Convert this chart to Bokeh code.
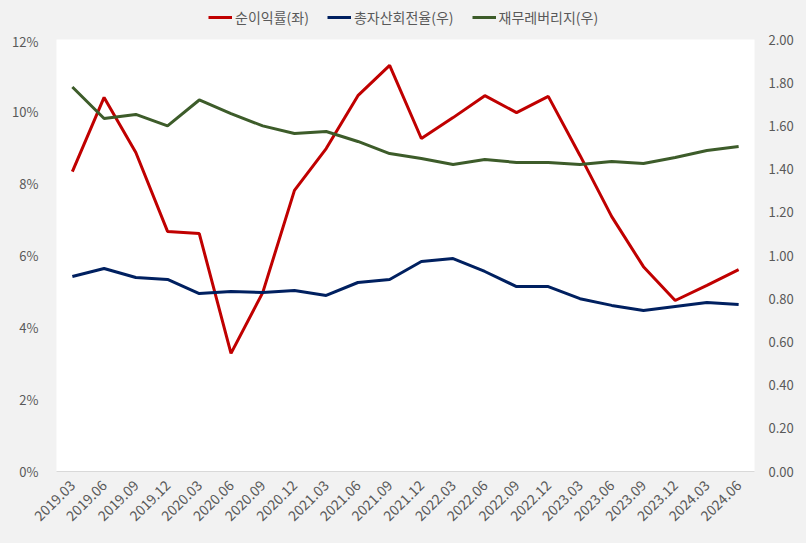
import math
from bokeh.plotting import figure
from bokeh.layouts import column
from bokeh.models import (Range1d, LinearAxis, FixedTicker, CustomJSTickFormatter,
                          NumeralTickFormatter, Legend, LegendItem)
from bokeh.embed import file_html
from bokeh.resources import INLINE

quarters = ["2019.03", "2019.06", "2019.09", "2019.12", "2020.03", "2020.06", "2020.09",
            "2020.12", "2021.03", "2021.06", "2021.09", "2021.12", "2022.03", "2022.06",
            "2022.09", "2022.12", "2023.03", "2023.06", "2023.09", "2023.12", "2024.03",
            "2024.06"]
net_margin = [8.33, 10.39, 8.86, 6.67, 6.61, 3.28, 4.97, 7.81, 8.97, 10.44, 11.28, 9.25,
              9.83, 10.44, 9.97, 10.42, 8.78, 7.08, 5.69, 4.75, 5.17, 5.61]
asset_turnover = [0.903, 0.940, 0.898, 0.889, 0.824, 0.833, 0.829, 0.838, 0.815, 0.875,
                  0.889, 0.972, 0.986, 0.926, 0.856, 0.856, 0.800, 0.769, 0.745, 0.764,
                  0.782, 0.773]
leverage = [1.780, 1.634, 1.653, 1.600, 1.720, 1.657, 1.600, 1.565, 1.574, 1.528, 1.472,
            1.449, 1.421, 1.444, 1.431, 1.431, 1.421, 1.435, 1.426, 1.454, 1.486, 1.505]
names = ["순이익률(좌)", "총자산회전율(우)", "재무레버리지(우)"]
colors = ["#C00000", "#002060", "#3D5C2A"]

BG = "#F2F2F2"
FONT = "Noto Sans CJK KR"
LABEL_COLOR = "#595959"

# ---- main chart ----
p = figure(width=806, height=512, x_range=quarters, y_range=Range1d(0, 12),
           output_backend="svg", toolbar_location=None,
           min_border_left=56, min_border_right=52, min_border_top=8, min_border_bottom=72)
p.background_fill_color = "white"
p.border_fill_color = BG
p.outline_line_color = None
p.xgrid.grid_line_color = None
p.ygrid.grid_line_color = None
p.extra_y_ranges = {"right": Range1d(0, 2)}

p.line(quarters, net_margin, line_color=colors[0], line_width=3)
p.line(quarters, asset_turnover, line_color=colors[1], line_width=3, y_range_name="right")
p.line(quarters, leverage, line_color=colors[2], line_width=3, y_range_name="right")

ya = p.yaxis[0]
ya.ticker = FixedTicker(ticks=[0, 2, 4, 6, 8, 10, 12])
ya.formatter = CustomJSTickFormatter(code="return tick.toFixed(0) + '%';")
ya.axis_line_color = None
ya.major_tick_line_color = None
ya.minor_tick_line_color = None
ya.major_label_standoff = 12
ya.major_label_text_font = FONT
ya.major_label_text_font_size = "13px"
ya.major_label_text_color = LABEL_COLOR

ra = LinearAxis(y_range_name="right", ticker=FixedTicker(ticks=[i * 0.2 for i in range(11)]),
                formatter=NumeralTickFormatter(format="0.00"))
ra.axis_line_color = None
ra.major_tick_line_color = None
ra.minor_tick_line_color = None
ra.major_label_standoff = 8
ra.major_label_text_font = FONT
ra.major_label_text_font_size = "13px"
ra.major_label_text_color = LABEL_COLOR
p.add_layout(ra, "right")

xa = p.xaxis[0]
xa.axis_line_color = "#D9D9D9"
xa.axis_line_width = 1
xa.major_tick_line_color = None
xa.minor_tick_line_color = None
xa.major_label_orientation = math.pi / 4
xa.major_label_standoff = 5
xa.major_label_text_font = FONT
xa.major_label_text_font_size = "14px"
xa.major_label_text_color = LABEL_COLOR

# ---- legend strip (series drawn off-range so only the legend swatches show) ----
lg = figure(width=806, height=31, x_range=quarters, y_range=Range1d(-20, -19),
            output_backend="svg", toolbar_location=None, min_border=0)
lg.axis.visible = False
lg.grid.grid_line_color = None
lg.outline_line_color = None
lg.background_fill_color = BG
lg.border_fill_color = BG
items = []
for name, c, vals in zip(names, colors, [net_margin, asset_turnover, leverage]):
    r = lg.line(quarters, vals, line_color=c, line_width=3)
    items.append(LegendItem(label=name, renderers=[r]))
legend = Legend(items=items, orientation="horizontal", location=(152, 4),
                background_fill_alpha=0, border_line_color=None,
                glyph_width=24, glyph_height=14, label_standoff=3, spacing=18,
                padding=0, margin=0,
                label_text_font=FONT, label_text_font_size="14px",
                label_text_color=LABEL_COLOR)
lg.add_layout(legend, "center")

layout = column(lg, p, spacing=0)
html = file_html(layout, INLINE)
html = html.replace("<head>", "<head><style>html,body{background:#F2F2F2;}</style>", 1)
open("out.html", "w").write(html)
